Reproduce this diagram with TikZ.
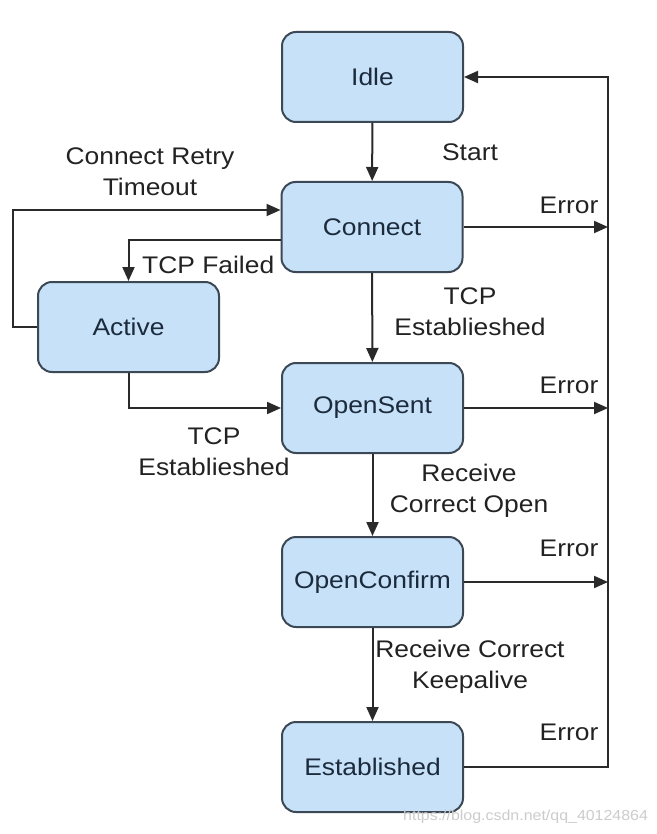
\documentclass[tikz,border=0pt]{standalone}
\usepackage{fontspec}
\setmainfont{Liberation Sans}[FakeStretch=1.1]
\usetikzlibrary{arrows.meta}
\definecolor{boxfill}{HTML}{C6E1F8}
\definecolor{boxline}{HTML}{3C4856}
\definecolor{boxtext}{HTML}{1C2B3C}
\definecolor{linec}{HTML}{2A2A2A}
\definecolor{labc}{HTML}{222222}
\begin{document}
\begin{tikzpicture}[x=1pt,y=-1pt,
  state/.style={draw=boxline, line width=2pt, fill=boxfill, rounded corners=14pt,
    minimum width=181pt, minimum height=90pt, text=boxtext,
    font=\fontsize{24}{28}\selectfont, inner sep=0pt},
  conn/.style={draw=linec, line width=2pt},
  arr/.style={conn, -{Triangle[length=14pt,width=12pt]}},
  lab/.style={text=labc, font=\fontsize{24}{31}\selectfont, align=center, inner sep=0pt}]
\useasboundingbox (0,0) rectangle (656,834);
\fill[white] (0,0) rectangle (656,834);
% states
\node[state] (idle) at (372.5,77) {Idle};
\node[state] (connect) at (372,227) {Connect};
\node[state] (active) at (128.5,327) {Active};
\node[state] (opensent) at (372.5,408) {OpenSent};
\node[state] (openconfirm) at (372.5,582) {OpenConfirm};
\node[state] (established) at (372.5,767) {Established};
% coordinates
\coordinate (e1) at (608,227);
\coordinate (e2) at (608,408);
\coordinate (e3) at (608,582);
\coordinate (rb) at (608,767);
\coordinate (rt) at (608,77);
\coordinate (rl) at (13,327);
% main flow
\draw[arr] (idle) -- (connect);
\draw[arr] (connect) -- (opensent);
\draw[arr] (opensent) -- (openconfirm);
\draw[arr] (openconfirm) -- (established);
% errors
\draw[arr] (connect.east) -- (e1);
\draw[arr] (opensent.east) -- (e2);
\draw[arr] (openconfirm.east) -- (e3);
\draw[arr] (established.east) -- (rb) -- (rt) -- (idle.east);
% active loops
\draw[arr] (active.west) -- (rl) |- ([yshift=17pt]connect.west);
\draw[arr] ([yshift=-13pt]connect.west) -| (active.north);
\draw[arr] (active.south) |- (opensent.west);
% labels
\node[lab] (lstart) at (470,152) {Start};
\node[lab] (lretry) at (150,172) {Connect Retry\\Timeout};
\node[lab, anchor=west] (lfail) at (142,265) {TCP Failed};
\node[lab] (ltcp1) at (470,312) {TCP\\Establieshed};
\node[lab] (ltcp2) at (214,452) {TCP\\Establieshed};
\node[lab] (lrecv1) at (469,491) {Receive\\Correct Open};
\node[lab] (lrecv2) at (470,667) {Receive Correct\\Keepalive};
\node[lab] (err1) at (569,205) {Error};
\node[lab] (err2) at (569,385) {Error};
\node[lab] (err3) at (569,548) {Error};
\node[lab] (err4) at (569,732) {Error};
\node[text=gray!40, font=\fontsize{14.5}{16}\selectfont, anchor=base west, inner sep=0pt] (wm) at (403,820) {https://blog.csdn.net/qq\_40124864};
\end{tikzpicture}
\end{document}
